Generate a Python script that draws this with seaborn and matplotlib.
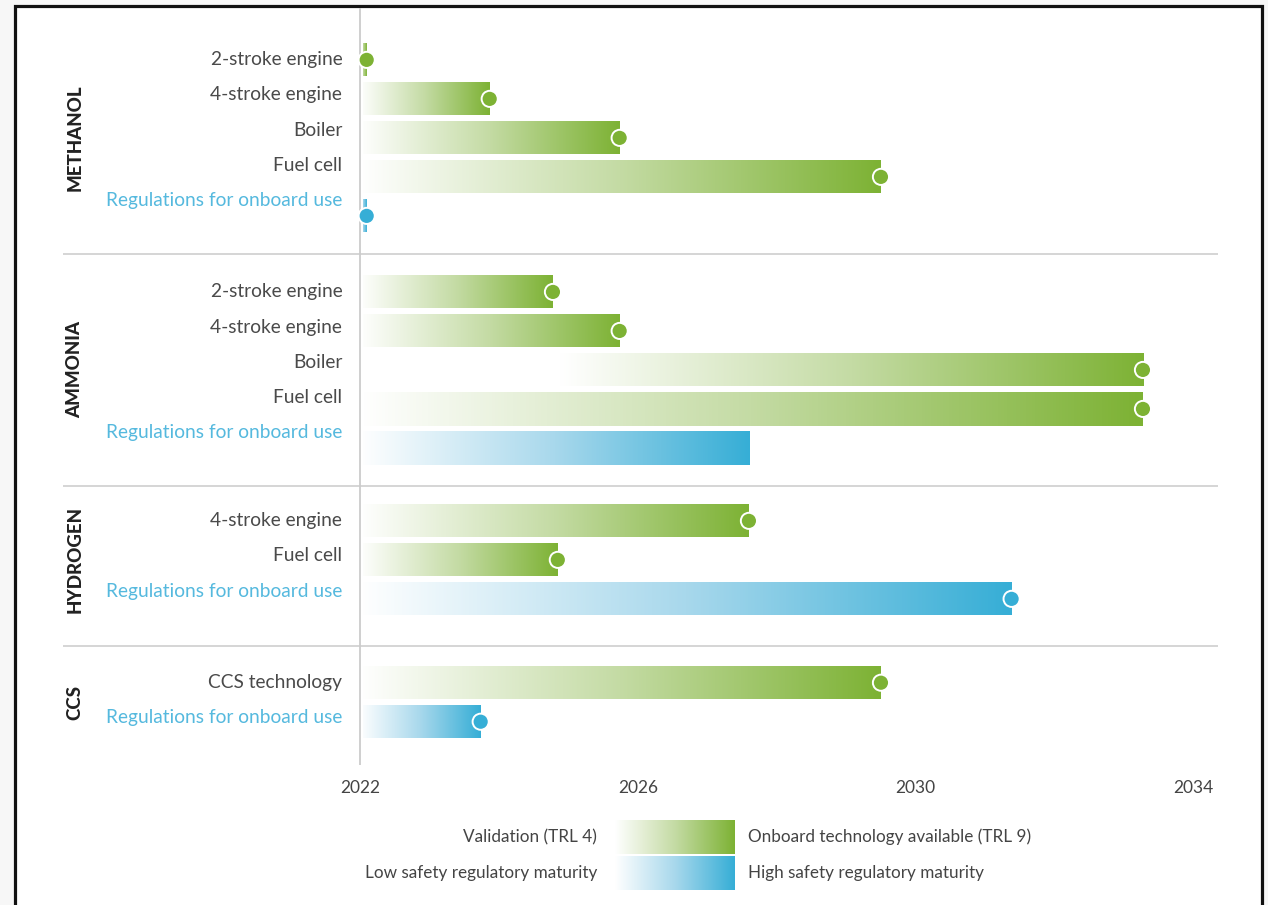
import numpy as np
import pandas as pd
import matplotlib
matplotlib.use("Agg")
import matplotlib.pyplot as plt
from matplotlib.colors import LinearSegmentedColormap
from matplotlib.patches import Rectangle
import seaborn as sns

# data
groups = ["METHANOL", "AMMONIA", "HYDROGEN", "CCS"]
group_items = [
    ["2-stroke engine", "4-stroke engine", "Boiler", "Fuel cell", "Regulations for onboard use"],
    ["2-stroke engine", "4-stroke engine", "Boiler", "Fuel cell", "Regulations for onboard use"],
    ["4-stroke engine", "Fuel cell", "Regulations for onboard use"],
    ["CCS technology", "Regulations for onboard use"],
]
end_year = [
    [2022.1, 2023.87, 2025.74, 2029.5, 2022.1],
    [2024.78, 2025.74, 2033.27, 2033.27, 2027.61],
    [2027.6, 2024.85, 2031.38],
    [2029.5, 2023.74],
]
fade_from = [
    [2022, 2022, 2022, 2022, 2022],
    [2022, 2022, 2024.88, 2022, 2022],
    [2022, 2022, 2022],
    [2022, 2022],
]
has_marker = [
    [True, True, True, True, True],
    [True, True, True, True, False],
    [True, True, True],
    [True, True],
]
year_ticks = [2022, 2026, 2030, 2034]
start_year = 2022

GREEN = "#7db234"
BLUE = "#36aed6"
REG_TEXT = "#55b9de"
TXT = "#4a4a4a"

# row layout (bar units)
group_start = [0, 5.95, 11.82, 15.97]
separators = [4.97, 10.92, 15.03]

rows = []
for g, name in enumerate(groups):
    for i, item in enumerate(group_items[g]):
        kind = "reg" if item.startswith("Regulations") else "tech"
        rows.append(dict(group=name, item=item, kind=kind,
                         end=end_year[g][i], fade=fade_from[g][i],
                         marker=has_marker[g][i],
                         y=group_start[g] + i,
                         label_y=group_start[g] + 0.9 * i))
df = pd.DataFrame(rows)

sns.set_theme(style="white")
plt.rcParams["font.family"] = ["Lato", "DejaVu Sans"]

fig = plt.figure(figsize=(12.68, 9.05), dpi=100)
fig.patch.set_facecolor("#f7f7f7")

# background / frame / legend layer in pixel coordinates
bg = fig.add_axes([0, 0, 1, 1])
bg.set_xlim(0, 1268)
bg.set_ylim(905, 0)
bg.axis("off")
bg.add_patch(Rectangle((15, 6.5), 1246.5, 920, facecolor="white",
                       edgecolor="#111111", linewidth=2.3, zorder=0))

ax = fig.add_axes([63 / 1268, (905 - 765) / 905, 1155 / 1268, 757 / 905])
ax.set_facecolor("none")

cmaps = {"tech": LinearSegmentedColormap.from_list("g", ["white", "#c4dba4", GREEN]),
         "reg": LinearSegmentedColormap.from_list("b", ["white", "#a8d8ec", BLUE])}
grad = np.linspace(0, 1, 256).reshape(1, -1)
h = 0.85

for _, r in df.iterrows():
    patch = ax.barh(r["y"], r["end"] - start_year, left=start_year + 0.05,
                    height=h, color="none", edgecolor="none", zorder=2)[0]
    im = ax.imshow(grad, cmap=cmaps[r["kind"]], aspect="auto",
                   extent=[r["fade"], r["end"], r["y"] + h / 2, r["y"] - h / 2],
                   interpolation="bicubic", zorder=2)
    im.set_clip_path(patch)
    ax.text(start_year - 0.25, r["label_y"], r["item"], ha="right", va="center",
            fontsize=13.8, color=REG_TEXT if r["kind"] == "reg" else TXT)

mk = df[df["marker"]]
sns.scatterplot(data=mk, x="end", y="y", hue="kind",
                palette={"tech": GREEN, "reg": BLUE}, s=135,
                edgecolor="white", linewidth=1.4, legend=False, zorder=4, ax=ax)

for g, name in enumerate(groups):
    yc = df.loc[df["group"] == name, "y"].mean()
    ax.text(0.0105, yc, name, transform=ax.get_yaxis_transform(), rotation=90,
            ha="center", va="center", fontsize=13.5, fontweight="black", color="#222222")

for s in separators:
    ax.axhline(s, color="#d2d2d2", linewidth=1.3, zorder=1)
ax.axvline(start_year, color="#cccccc", linewidth=1.3, zorder=1)

ax.set_xlim(2017.73, 2034.35)
ax.set_ylim(18.08, -1.33)
ax.set_xticks(year_ticks)
ax.set_xticklabels([str(t) for t in year_ticks])
ax.set_yticks([])
ax.tick_params(axis="x", length=0, pad=11, labelsize=12.5, labelcolor="#444444")
ax.set_xlabel("")
ax.set_ylabel("")
for sp in ax.spines.values():
    sp.set_visible(False)

# legend
leg_rows = [("Validation (TRL 4)", "Onboard technology available (TRL 9)", "tech", 837),
            ("Low safety regulatory maturity", "High safety regulatory maturity", "reg", 873)]
for left_txt, right_txt, kind, yc in leg_rows:
    bg.imshow(grad, cmap=cmaps[kind], aspect="auto",
              extent=[615, 735, yc + 17, yc - 17], interpolation="bicubic", zorder=2)
    bg.text(597, yc, left_txt, ha="right", va="center", fontsize=12.3, color="#444444")
    bg.text(748, yc, right_txt, ha="left", va="center", fontsize=12.3, color="#444444")
bg.set_xlim(0, 1268)
bg.set_ylim(905, 0)

fig.savefig("out.png", dpi=100, facecolor=fig.get_facecolor())
